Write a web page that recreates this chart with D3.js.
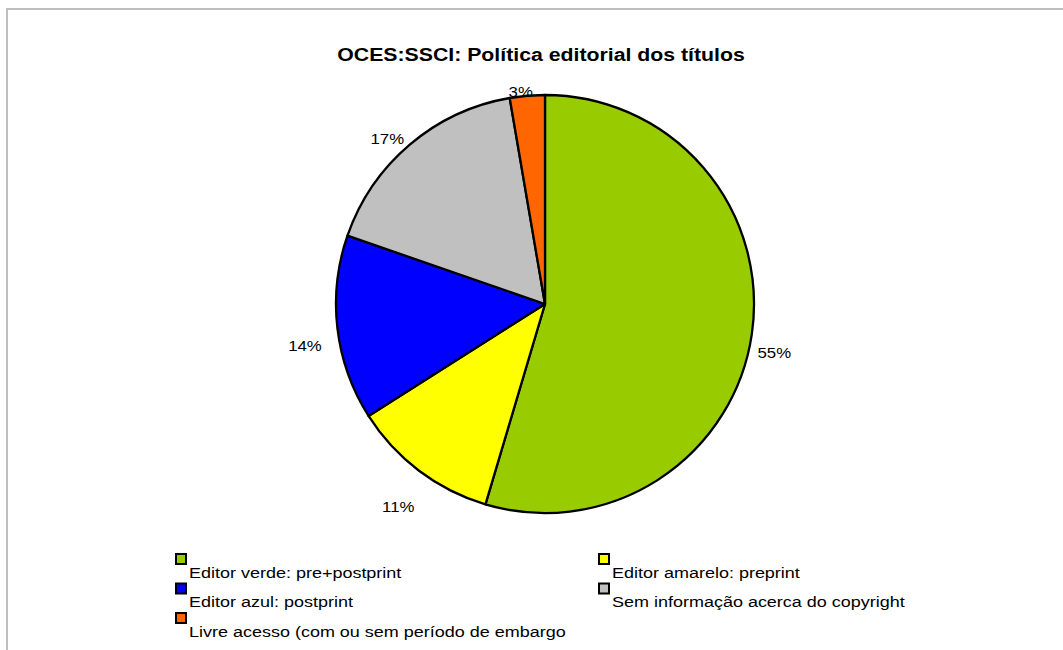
<!DOCTYPE html>
<html>
<head>
<meta charset="utf-8">
<script src="https://cdn.jsdelivr.net/npm/d3@7"></script>
<style>
  html, body { margin: 0; padding: 0; background: #fff; }
  svg { display: block; font-family: "Liberation Sans", Arial, sans-serif; }
</style>
</head>
<body>
<svg id="chart" width="1063" height="650"></svg>
<script>
// Editorial policy of the journals (share of titles, %)
const categories = [
  "Editor verde: pre+postprint",
  "Editor amarelo: preprint",
  "Editor azul: postprint",
  "Sem informação acerca do copyright",
  "Livre acesso (com ou sem período de embargo"
];
const shares = [54.6, 11.4, 14.3, 17.0, 2.7];
const colors = ["#99cc00", "#ffff00", "#0000ff", "#c0c0c0", "#ff6600"];
const title = "OCES:SSCI: Política editorial dos títulos";

const svg = d3.select("#chart");
const W = 1063, H = 650;

// the typeface is set slightly wide
const stretchTitle = 1.15, stretchText = 1.2;

// chart area frame (runs past the right and bottom edges)
svg.append("rect")
  .attr("x", 7).attr("y", 9)
  .attr("width", W + 20).attr("height", H + 20)
  .attr("fill", "#fff")
  .attr("stroke", "#bfbfbf")
  .attr("stroke-width", 2);

svg.append("text")
  .attr("transform", `translate(541,61) scale(${stretchTitle},1)`)
  .attr("text-anchor", "middle")
  .attr("font-size", 18.5)
  .attr("font-weight", "bold")
  .attr("fill", "#000")
  .text(title);

const cx = 545, cy = 304, r = 209;
const data = categories.map((c, i) => ({ name: c, value: shares[i], color: colors[i] }));

const pie = d3.pie().value(d => d.value).sort(null);
const arcs = pie(data);
const arc = d3.arc().innerRadius(0).outerRadius(r);

const g = svg.append("g").attr("transform", `translate(${cx},${cy})`);
g.selectAll("path.slice")
  .data(arcs)
  .enter().append("path")
  .attr("class", "slice")
  .attr("d", arc)
  .attr("fill", d => d.data.color)
  .attr("stroke", "#000")
  .attr("stroke-width", 2.3)
  .attr("stroke-linejoin", "round");

// percentage labels just outside each slice
const fmt = v => Math.round(v) + "%";
g.selectAll("text.lbl")
  .data(arcs)
  .enter().append("text")
  .attr("class", "lbl")
  .attr("font-size", 14)
  .attr("fill", "#000")
  .attr("text-anchor", "middle")
  .attr("dominant-baseline", "central")
  .text(d => fmt(d.data.value))
  .each(function(d) {
    const a = (d.startAngle + d.endAngle) / 2;
    const s = Math.sin(a), c = -Math.cos(a);
    const bb = this.getBBox();
    const w = bb.width * stretchText;
    const dist = r + 10 + Math.abs(s) * w / 2 + Math.abs(c) * bb.height / 2;
    const x = s * dist - 5, y = c * dist + 15;
    d3.select(this).attr("transform", `translate(${x},${y}) scale(${stretchText},1)`);
  });

// legend: two columns, marker above each label
const colX = [175, 598];
const rowY = [553, 582.5, 612];
const leg = svg.append("g");
data.forEach((d, i) => {
  const x = colX[i % 2], y = rowY[Math.floor(i / 2)];
  leg.append("rect")
    .attr("x", x + 1).attr("y", y + 1)
    .attr("width", 10).attr("height", 10)
    .attr("fill", d.color)
    .attr("stroke", "#000")
    .attr("stroke-width", 2);
  leg.append("text")
    .attr("transform", `translate(${x + 14},${y + 20}) scale(${stretchText},1)`)
    .attr("dominant-baseline", "central")
    .attr("font-size", 15)
    .attr("fill", "#000")
    .text(d.name);
});
</script>
</body>
</html>
